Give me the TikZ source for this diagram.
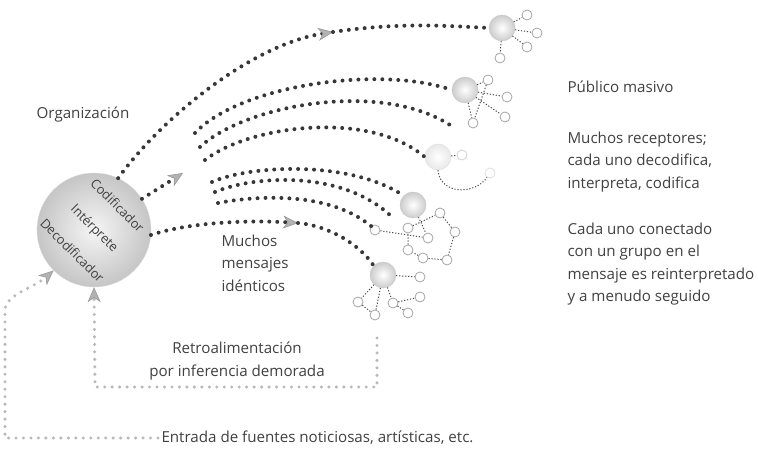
\documentclass[tikz,border=0pt]{standalone}
\usepackage{fontspec}
\setmainfont{Open Sans}
\usepackage{xcolor}
\usepackage{tikz}
\usetikzlibrary{arrows.meta,calc}
\definecolor{ink}{RGB}{65,65,65}
\definecolor{dotgray}{RGB}{55,55,55}

\begin{document}
\begin{tikzpicture}[x=1bp, y=1bp,
  every node/.style={font=\fontsize{15.2}{22.5}\selectfont\color{ink}},
  dots/.style={draw=dotgray, line width=4pt, line cap=round, dash pattern=on 0pt off 8pt},
  fdots/.style={draw=gray!55, line width=3.4pt, line cap=round, dash pattern=on 0pt off 7.5pt},
  tip/.style={-{Stealth[length=15pt, width=13pt, inset=4.5pt, fill=gray!60, color=gray!80, line width=0.6pt]}},
  globe/.style={circle, minimum size=114bp, inner color=gray!8, outer color=gray!45, draw=gray!30},
  hub/.style={circle, minimum size=26bp, inner sep=0pt, inner color=white, outer color=gray!40, draw=gray!45},
  leaf/.style={circle, minimum size=10bp, inner sep=0pt, draw=gray!70, fill=white, line width=0.8pt},
  faint/.style={draw=gray!25, inner color=white, outer color=gray!18},
  link/.style={draw=black!70, line width=1pt, dash pattern=on 1.2pt off 1.8pt},
  txt/.style={anchor=west, align=left}
]
  \path[use as bounding box, fill=white] (0,0) rectangle (758,450);

  \node[globe] (org) at (94,220) {};
  \node[rotate=-45, align=center, font=\fontsize{13}{32}\selectfont\color{ink}] (orgtxt) at (95,222)
    {Codificador\\Intérprete\\Decodificador};
  \node (orgl) at (83,335) {Organización};

  % receptores
  \node[hub] (r1) at (502,422) {};
  \node[leaf] (r1a) at (527,435) {};
  \node[leaf] (r1b) at (537,417) {};
  \node[leaf] (r1c) at (527,403) {};
  \node[leaf] (r1d) at (500,392) {};
  \draw[link] (r1) -- (r1a) (r1) -- (r1b) (r1) -- (r1c) (r1) -- (r1d);

  \node[hub] (r2) at (465,360) {};
  \node[leaf] (r2a) at (488,370) {};
  \node[leaf] (r2b) at (507,353) {};
  \node[leaf] (r2c) at (505,333) {};
  \node[leaf] (r2d) at (473,327) {};
  \draw[link] (r2) -- (r2a) (r2) -- (r2b) (r2) -- (r2c) (r2) -- (r2d) (r2a) -- (r2d);

  \node[hub, faint] (r3) at (438,293) {};
  \node[leaf, draw=gray!35] (r3a) at (462,295) {};
  \node[leaf, draw=gray!25] (r3b) at (490,277) {};
  \draw[link] (r3) -- (r3a);
  \draw[link] (r3.south) .. controls (440,255) and (475,255) .. (r3b);

  \node[hub] (r4) at (413,245) {};
  \node[leaf] (r4a) at (440,237) {};
  \node[leaf] (r4b) at (455,218) {};
  \node[leaf] (r4c) at (447,190) {};
  \node[leaf] (r4d) at (423,192) {};
  \node[leaf] (r4e) at (408,200) {};
  \node[leaf] (r4f) at (428,212) {};
  \node[leaf] (r4g) at (375,220) {};
  \node[leaf] (r4h) at (408,222) {};
  \draw[link] (r4h) -- (r4a) (r4) -- (r4f) (r4g) -- (r4f) (r4a) -- (r4b) (r4b) -- (r4c)
              (r4c) -- (r4d) (r4d) -- (r4e) (r4e) -- (r4h);

  \node[hub] (r5) at (383,175) {};
  \node[leaf] (r5a) at (420,173) {};
  \node[leaf] (r5b) at (420,153) {};
  \node[leaf] (r5c) at (408,137) {};
  \node[leaf] (r5d) at (393,147) {};
  \node[leaf] (r5e) at (375,135) {};
  \node[leaf] (r5f) at (358,148) {};
  \draw[link] (r5) -- (r5a) (r5) -- (r5d) (r5) -- (r5e) (r5) -- (r5f) (r5f) -- (r5e)
              (r5d) -- (r5b) (r5d) -- (r5c);

  % mensajes
  \coordinate (a1) at (333,418);
  \coordinate (a2) at (183,277);
  \coordinate (a4) at (298,227);
  \coordinate (s2a) at (195,317);
  \coordinate (s2b) at (200,303);
  \coordinate (s2c) at (205,290);
  \coordinate (e2b) at (450,325);
  \coordinate (s3a) at (212,268);
  \coordinate (s3b) at (215,258);
  \coordinate (s3c) at (218,247);
  \coordinate (e3b) at (393,232);

  \draw[dots, tip] (org.65) .. controls (160,330) and (250,405) .. (a1);
  \draw[dots] (a1) .. controls (400,428) and (450,424) .. (r1.west);
  \draw[dots, tip] (org.33) -- (a2);
  \draw[dots, tip] (org.-5) .. controls (190,228) and (250,230) .. (a4);
  \draw[dots] (a4) .. controls (330,224) and (360,205) .. (r5.north west);

  \draw[dots] (s2a) .. controls (240,365) and (380,385) .. (r2.west);
  \draw[dots] (s2b) .. controls (245,345) and (380,370) .. (e2b);
  \draw[dots] (s2c) .. controls (250,325) and (370,340) .. (r3.west);

  \draw[dots] (s3a) .. controls (250,285) and (350,290) .. (r4.north west);
  \draw[dots] (s3b) .. controls (255,275) and (345,280) .. (e3b);
  \draw[dots] (s3c) .. controls (260,255) and (330,258) .. (r4g.north west);

  \node[txt] (mm) at (218,187) {Muchos\\mensajes\\idénticos};

  % retroalimentacion y entrada
  \coordinate (fb) at (377,112);
  \coordinate (fc) at (95,63);
  \draw[fdots, tip] (fb) |- (fc) -- (org.south);
  \node[align=center] (retro) at (237,89) {Retroalimentación\\por inferencia demorada};

  \node[txt] (ent) at (158,12) {Entrada de fuentes noticiosas, artísticas, etc.};
  \coordinate (ic) at (5,12);
  \coordinate (icb) at (5,140);
  \draw[fdots, tip] (ent.west) -- (ic) -- (icb) .. controls (5,155) and (35,163) .. (org.225);

  \node[txt] (pub) at (564,363) {Público masivo};
  \node[txt] (rec) at (564,288) {Muchos receptores;\\cada uno decodifica,\\interpreta, codifica};
  \node[txt] (grp) at (564,186) {Cada uno conectado\\con un grupo en el\\mensaje es reinterpretado\\y a menudo seguido};
\end{tikzpicture}
\end{document}
